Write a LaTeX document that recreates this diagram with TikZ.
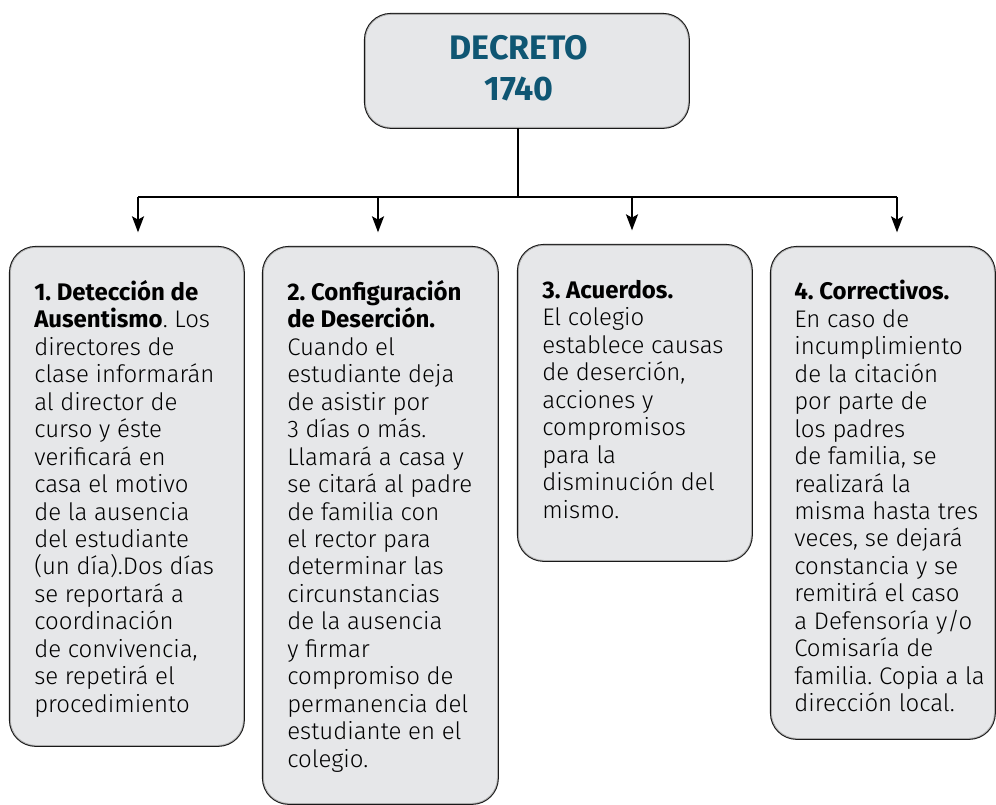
\documentclass[tikz,border=0pt]{standalone}
\usepackage{fontspec}
\IfFontExistsTF{Fira Sans Light}{\setmainfont{Fira Sans Light}[BoldFont={Fira Sans Bold}]}{\setmainfont{Fira Sans}}
\usetikzlibrary{arrows.meta}
\definecolor{boxfill}{HTML}{E6E7E9}
\definecolor{titleblue}{HTML}{0F5673}
\frenchspacing
\begin{document}
\begin{tikzpicture}[x=0.75pt,y=-0.75pt,
  box/.style={rectangle, rounded corners=19pt, fill=boxfill, anchor=north west,
    preaction={draw=black!90, line width=2.2pt}, draw=gray!65, line width=0.6pt, inner sep=0pt},
  boxtext/.style={anchor=north west, align=left, inner sep=0pt,
    font=\fontsize{18}{20.6}\selectfont},
  conn/.style={draw=black, line width=1.4pt},
  arr/.style={conn, -{Stealth[length=12pt,width=9pt,inset=2.5pt]}, shorten >=11pt}]
\useasboundingbox (0,0) rectangle (996,805);
% top box
\node[box, minimum width=242.25pt, minimum height=84.75pt] (top) at (365,14) {};
\node[align=center, inner sep=0pt, text=titleblue,
  font=\fontsize{25.5}{31}\selectfont\bfseries] (title) at (519,68) {DECRETO\\1740};
% boxes
\node[box, minimum width=174.75pt, minimum height=373.5pt] (b1) at (10,247) {};
\node[box, minimum width=175.5pt, minimum height=417pt] (b2) at (263,247) {};
\node[box, minimum width=174.75pt, minimum height=236.25pt] (b3) at (518,245) {};
\node[box, minimum width=167.25pt, minimum height=368.25pt] (b4) at (771,247) {};
% texts
\node[boxtext] (t1) at (34,280) {\textbf{1. Detección de}\\\textbf{Ausentismo}. Los\\directores de\\clase informarán\\al director de\\curso y éste\\verificará en\\casa el motivo\\de la ausencia\\del estudiante\\(un día).Dos días\\se reportará a\\coordinación\\de convivencia,\\se repetirá el\\procedimiento};
\node[boxtext] (t2) at (287,280) {\textbf{2. Configuración}\\\textbf{de Deserción.}\\Cuando el\\estudiante deja\\de asistir por\\3 días o más.\\Llamará a casa y\\se  citará al padre\\de familia con\\el rector para\\determinar las\\circunstancias\\de la ausencia\\y firmar\\compromiso de\\permanencia del\\estudiante en el\\colegio.};
\node[boxtext] (t3) at (542,280) {\textbf{3. Acuerdos.}\\El colegio\\establece causas\\de deserción,\\acciones y\\compromisos\\para la\\disminución del\\mismo.};
\node[boxtext] (t4) at (794,280) {\textbf{4. Correctivos.}\\En caso de\\incumplimiento\\de la citación\\por parte de\\los padres\\de familia, se\\realizará la\\misma hasta tres\\veces, se dejará\\constancia y se\\remitirá el caso\\a Defensoría y/o\\Comisaría de\\familia. Copia a la\\dirección local.};
% connectors
\coordinate (a0) at (518,197);
\coordinate (a1) at (138,197);
\coordinate (a2) at (378,197);
\coordinate (a3) at (632,197);
\coordinate (a4) at (897,197);
\draw[conn] (top.south -| a0) -- (a0);
\draw[conn] (a1) -- (a4);
\draw[arr] (a1) -- (a1 |- b1.north);
\draw[arr] (a2) -- (a2 |- b2.north);
\draw[arr] (a3) -- (a3 |- b3.north);
\draw[arr] (a4) -- (a4 |- b4.north);
\end{tikzpicture}
\end{document}
